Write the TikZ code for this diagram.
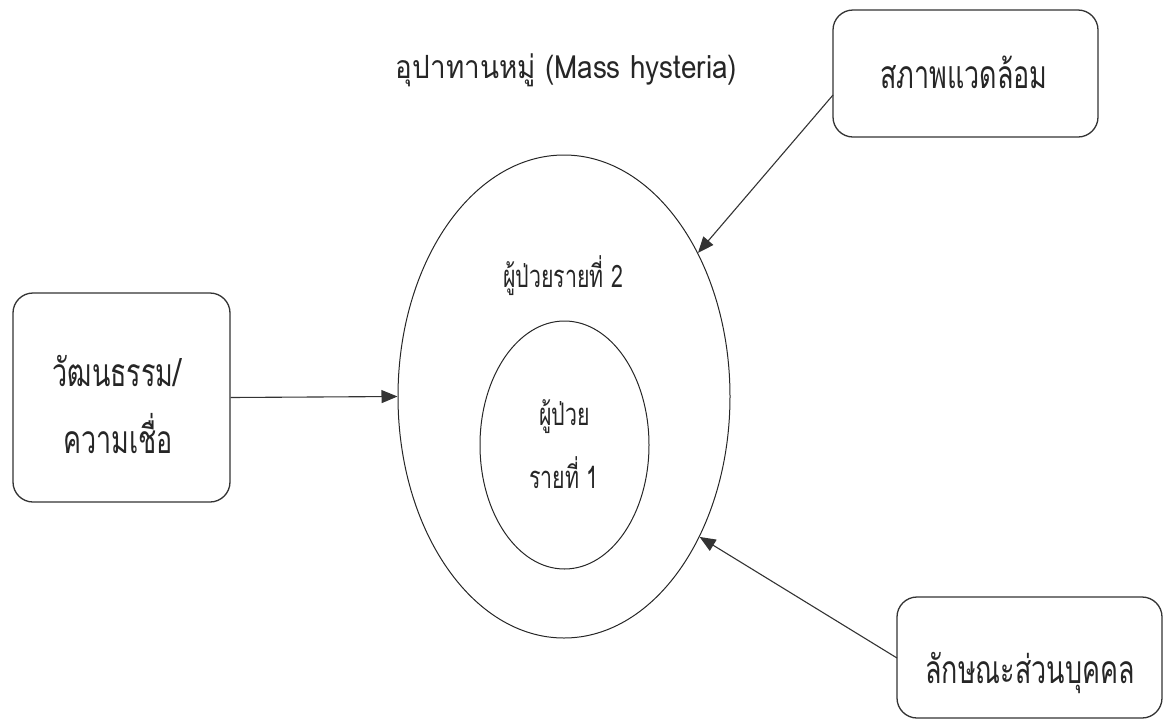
\documentclass[tikz,border=0pt]{standalone}
\usepackage{fontspec}
\setmainfont[Script=Thai]{Loma}
\newfontfamily\condthai[Script=Thai,FakeStretch=0.69]{Loma}
\newfontfamily\titlethai[Script=Thai,FakeStretch=0.87]{Loma}
\usetikzlibrary{shapes.geometric,arrows.meta}
\tikzset{
  line/.style={draw=black!80,line width=1.1pt},
  box/.style={draw=black!80,line width=1.3pt,rectangle,rounded corners=20pt,inner sep=0pt},
  ring/.style={draw=black!85,line width=1pt,ellipse,inner sep=0pt},
  arr/.style={line,-{Triangle[length=16pt,width=13pt]}},
  lbl/.style={text=black!85,inner sep=0pt,anchor=base},
  boxtext/.style={lbl,font=\condthai\fontsize{39}{46}\selectfont},
  ringtext/.style={lbl,font=\condthai\fontsize{31}{36}\selectfont}
}
\begin{document}
\begin{tikzpicture}[x=1pt,y=-1pt]
\useasboundingbox (0,0) rectangle (1163,721);
\node[lbl,font=\titlethai\fontsize{32}{38}\selectfont] (title) at (566.5,78) {อุปาทานหมู่ (Mass hysteria)};
\node[ring,minimum width=332pt,minimum height=483pt] (outer) at (564,396.5) {};
\node[ring,minimum width=169pt,minimum height=248pt] (inner) at (564.5,445) {};
\node[ringtext] (p2) at (563,287) {ผู้ป่วยรายที่ 2};
\node[ringtext] (p1a) at (564.5,425) {ผู้ป่วย};
\node[ringtext] (p1b) at (564,488) {รายที่ 1};
\node[box,minimum width=217pt,minimum height=209pt] (culture) at (121.5,397.5) {};
\node[boxtext] (culturea) at (117,386) {วัฒนธรรม/};
\node[boxtext] (cultureb) at (118,453) {ความเชื่อ};
\node[box,minimum width=265pt,minimum height=127pt] (env) at (965.5,73.5) {};
\node[boxtext] (envt) at (964,88) {สภาพแวดล้อม};
\node[box,minimum width=265pt,minimum height=121pt] (pers) at (1029.5,657.5) {};
\node[boxtext] (perst) at (1030,683) {ลักษณะส่วนบุคคล};
\coordinate (s1) at (833,95);
\coordinate (s2) at (897,658);
\draw[arr] (culture.east) -- (outer.west);
\draw[arr] (s1) -- (outer.47.5);
\draw[arr] (s2) -- (outer.-46.9);
\end{tikzpicture}
\end{document}
